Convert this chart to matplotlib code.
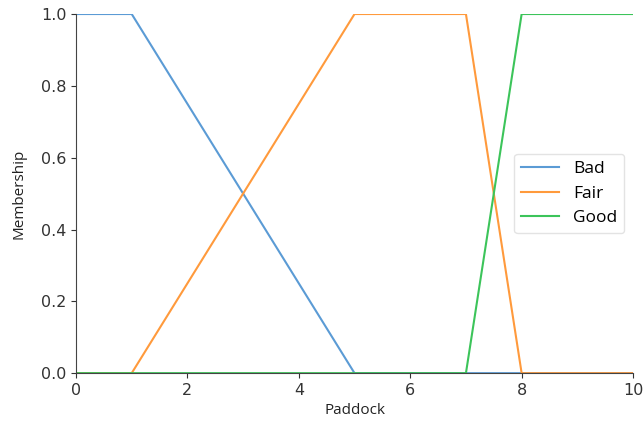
import numpy as np
import matplotlib
matplotlib.use("Agg")
import matplotlib.pyplot as plt

# Universe of discourse and membership degrees for each term
x_paddock = [0, 1, 2, 3, 4, 5, 6, 7, 8, 9, 10]
bad = [1.0, 1.0, 0.75, 0.5, 0.25, 0.0, 0.0, 0.0, 0.0, 0.0, 0.0]
fair = [0.0, 0.0, 0.25, 0.5, 0.75, 1.0, 1.0, 1.0, 0.0, 0.0, 0.0]
good = [0.0, 0.0, 0.0, 0.0, 0.0, 0.0, 0.0, 0.0, 1.0, 1.0, 1.0]

labels = ["Bad", "Fair", "Good"]
colors = ["#5b9bd5", "#ff9a3c", "#3cc45a"]

fig = plt.figure(figsize=(6.44, 4.25), dpi=100)
ax = fig.add_axes([0.118, 0.122, 0.865, 0.845])

for vals, lab, col in zip([bad, fair, good], labels, colors):
    ax.plot(x_paddock, vals, color=col, linewidth=1.5, label=lab)

ax.set_xlim(0, 10)
ax.set_ylim(0, 1.0)
ax.set_xticks([0, 2, 4, 6, 8, 10])
ax.set_yticks([0.0, 0.2, 0.4, 0.6, 0.8, 1.0])
ax.tick_params(labelsize=11.5, colors="#333333")
ax.spines["top"].set_visible(False)
ax.spines["right"].set_visible(False)
for s in ("left", "bottom"):
    ax.spines[s].set_color("#444444")

ax.set_xlabel("Paddock", fontsize=11, family="Open Sans", color="#222222")
ax.set_ylabel("Membership", fontsize=11, family="Open Sans", color="#222222",
              labelpad=10)

leg = ax.legend(loc="center right", prop={"family": "Open Sans", "size": 12.5},
                frameon=True, borderaxespad=0.5, handlelength=2.2)
leg.get_frame().set_edgecolor("#dddddd")

fig.savefig("out.png", dpi=100)
